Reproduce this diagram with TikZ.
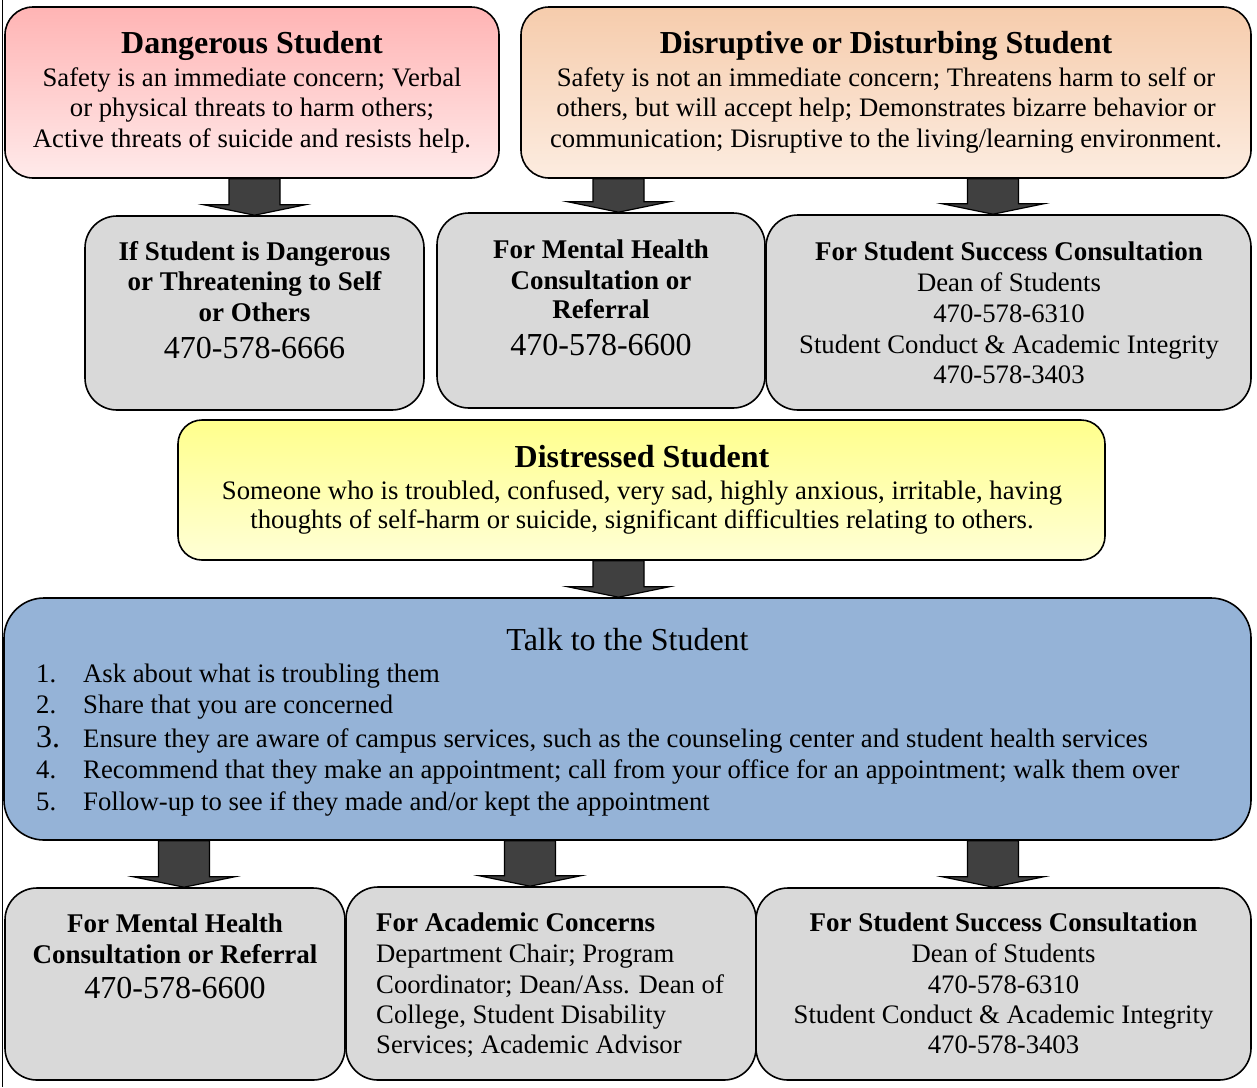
\documentclass[tikz,border=0pt]{standalone}
\usepackage{fontspec}
\setmainfont{Liberation Serif}
\usetikzlibrary{calc}
\definecolor{pinkT}{RGB}{255,180,180}
\definecolor{pinkB}{RGB}{255,234,234}
\definecolor{peachT}{RGB}{246,204,172}
\definecolor{peachB}{RGB}{252,236,224}
\definecolor{yelT}{RGB}{255,255,140}
\definecolor{yelB}{RGB}{255,255,214}
\definecolor{talkblue}{RGB}{149,179,215}
\definecolor{boxgray}{RGB}{217,217,217}
\definecolor{arrowgray}{RGB}{64,64,64}
\begin{document}
\begin{tikzpicture}[x=1pt,y=-1pt,
  box/.style={draw=black, line width=1.6pt, inner sep=0pt, rectangle},
  gbox/.style={box, fill=boxgray},
  tb/.style={anchor=base, inner sep=0pt, font=\fontsize{32}{36}\selectfont\bfseries},
  bb/.style={anchor=base, inner sep=0pt, font=\fontsize{27}{30}\selectfont\bfseries},
  tx/.style={anchor=base, inner sep=0pt, font=\fontsize{26.7}{30}\selectfont},
  ph/.style={anchor=base, inner sep=0pt, font=\fontsize{32}{36}\selectfont},
  blockarrow/.style={draw=black, line width=1.2pt, fill=arrowgray, line join=miter,
    to path={let \p1=(\tikztostart), \p2=(\tikztotarget) in
      (\x1-25.5pt,\y1) -- (\x1+25.5pt,\y1) -- (\x1+25.5pt,\y2+10.5pt) -- (\x1+51pt,\y2+10.5pt)
      -- (\x1,\y2) -- (\x1-51pt,\y2+10.5pt) -- (\x1-25.5pt,\y2+10.5pt) -- cycle}}]
\useasboundingbox (0,0) rectangle (1257,1087);
% page edge line
\draw[line width=1.2pt] (2.5,0) -- (2.5,1087);

% boxes
\node[box, top color=pinkT, bottom color=pinkB, minimum width=494pt, minimum height=171pt, rounded corners=28pt] (dang) at (252,92.5) {};
\node[box, top color=peachT, bottom color=peachB, minimum width=730pt, minimum height=171pt, rounded corners=28pt] (disr) at (886,92.5) {};
\node[gbox, minimum width=339pt, minimum height=194pt, rounded corners=32pt] (ifst) at (254.5,313) {};
\node[gbox, minimum width=328pt, minimum height=195pt, rounded corners=32pt] (mhtop) at (601,310.5) {};
\node[gbox, minimum width=485pt, minimum height=195pt, rounded corners=32pt] (sstop) at (1008.5,312.5) {};
\node[box, top color=yelT, bottom color=yelB, minimum width=927pt, minimum height=140pt, rounded corners=24pt] (dist) at (641.5,490) {};
\node[box, fill=talkblue, minimum width=1247pt, minimum height=242pt, rounded corners=40pt] (talk) at (627.5,719) {};
\node[gbox, minimum width=340pt, minimum height=192pt, rounded corners=32pt] (mhbot) at (175,984) {};
\node[gbox, minimum width=410pt, minimum height=193pt, rounded corners=32pt] (acad) at (551,983.5) {};
\node[gbox, minimum width=495pt, minimum height=192pt, rounded corners=32pt] (ssbot) at (1003.5,984) {};

% arrow axes
\coordinate (ax1) at (254.5,0);
\coordinate (ax2) at (618.5,0);
\coordinate (ax3) at (993,0);
\coordinate (ax4) at (618.5,0);
\coordinate (ax5) at (184,0);
\coordinate (ax6) at (530,0);
\coordinate (ax7) at (993,0);

\draw[blockarrow] (dang.south -| ax1) to (ifst.north -| ax1);
\draw[blockarrow] (disr.south -| ax2) to (mhtop.north -| ax2);
\draw[blockarrow] (disr.south -| ax3) to (sstop.north -| ax3);
\draw[blockarrow] (dist.south -| ax4) to (talk.north -| ax4);
\draw[blockarrow] (talk.south -| ax5) to (mhbot.north -| ax5);
\draw[blockarrow] (talk.south -| ax6) to (acad.north -| ax6);
\draw[blockarrow] (talk.south -| ax7) to (ssbot.north -| ax7);

% Dangerous
\node[tb] (dang-t) at (252,53) {Dangerous Student};
\node[tx] (dang-1) at (252,86) {Safety is an immediate concern; Verbal};
\node[tx] (dang-2) at (252,116) {or physical threats to harm others;};
\node[tx] (dang-3) at (252,147) {Active threats of suicide and resists help.};

% Disruptive
\node[tb] (disr-t) at (886,53) {Disruptive or Disturbing Student};
\node[tx] (disr-1) at (886,86) {Safety is not an immediate concern; Threatens harm to self or};
\node[tx] (disr-2) at (886,116) {others, but will accept help; Demonstrates bizarre behavior or};
\node[tx] (disr-3) at (886,147) {communication; Disruptive to the living/learning environment.};

% If student
\node[bb] (ifst-1) at (254.5,260) {If Student is Dangerous};
\node[bb] (ifst-2) at (254.5,290) {or Threatening to Self};
\node[bb] (ifst-3) at (254.5,321) {or Others};
\node[ph] (ifst-4) at (254.5,358) {470-578-6666};

% Mental health top
\node[bb] (mhtop-1) at (601,258) {For Mental Health};
\node[bb] (mhtop-2) at (601,289) {Consultation or};
\node[bb] (mhtop-3) at (601,318) {Referral};
\node[ph] (mhtop-4) at (601,355) {470-578-6600};

% Student success top
\node[bb] (sstop-1) at (1009,260) {For Student Success Consultation};
\node[tx] (sstop-2) at (1009,291) {Dean of Students};
\node[tx] (sstop-3) at (1009,322) {470-578-6310};
\node[tx] (sstop-4) at (1009,353) {Student Conduct \& Academic Integrity};
\node[tx] (sstop-5) at (1009,383) {470-578-3403};

% Distressed
\node[tb] (dist-t) at (642,467) {Distressed Student};
\node[tx] (dist-1) at (642,499) {Someone who is troubled, confused, very sad, highly anxious, irritable, having};
\node[tx] (dist-2) at (642,528) {thoughts of self-harm or suicide, significant difficulties relating to others.};

% Talk
\node[ph] (talk-t) at (627.5,650) {Talk to the Student};
\node[tx, anchor=base west] (n1) at (36,682) {1.};
\node[tx, anchor=base west] (n2) at (36,713) {2.};
\node[ph, anchor=base west] (n3) at (36,747) {3.};
\node[tx, anchor=base west] (n4) at (36,778) {4.};
\node[tx, anchor=base west] (n5) at (36,810) {5.};
\node[tx, anchor=base west] (i1) at (83,682) {Ask about what is troubling them};
\node[tx, anchor=base west] (i2) at (83,713) {Share that you are concerned};
\node[tx, anchor=base west] (i3) at (83,747) {Ensure they are aware of campus services, such as the counseling center and student health services};
\node[tx, anchor=base west] (i4) at (83,778) {Recommend that they make an appointment; call from your office for an appointment; walk them over};
\node[tx, anchor=base west] (i5) at (83,810) {Follow-up to see if they made and/or kept the appointment};

% Mental health bottom
\node[bb] (mhbot-1) at (175,932) {For Mental Health};
\node[bb] (mhbot-2) at (175,963) {Consultation or Referral};
\node[ph] (mhbot-3) at (175,998) {470-578-6600};

% Academic
\node[bb, anchor=base west] (acad-1) at (376,931) {For Academic Concerns};
\node[tx, anchor=base west] (acad-2) at (376,962) {Department Chair; Program};
\node[tx, anchor=base west] (acad-3) at (376,993) {Coordinator; Dean/Ass. Dean of};
\node[tx, anchor=base west] (acad-4) at (376,1023) {College, Student Disability};
\node[tx, anchor=base west] (acad-5) at (376,1053) {Services; Academic Advisor};

% Student success bottom
\node[bb] (ssbot-1) at (1003.5,931) {For Student Success Consultation};
\node[tx] (ssbot-2) at (1003.5,962) {Dean of Students};
\node[tx] (ssbot-3) at (1003.5,993) {470-578-6310};
\node[tx] (ssbot-4) at (1003.5,1023) {Student Conduct \& Academic Integrity};
\node[tx] (ssbot-5) at (1003.5,1053) {470-578-3403};
\end{tikzpicture}
\end{document}
